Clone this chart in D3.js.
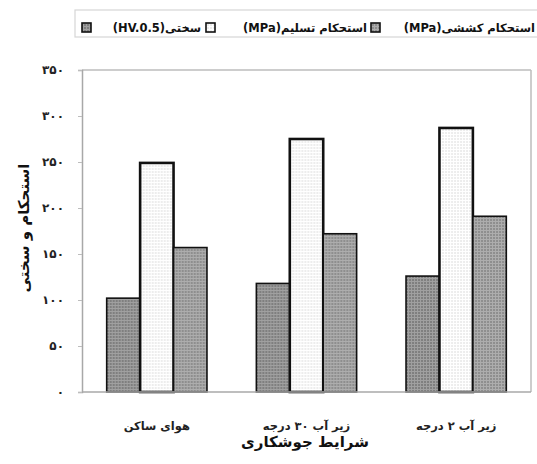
<!DOCTYPE html>
<html>
<head>
<meta charset="utf-8">
<script src="https://cdn.jsdelivr.net/npm/d3@7"></script>
<style>
  body { margin: 0; background: #fff; }
  text { font-family: "DejaVu Sans", "Liberation Sans", sans-serif; }
</style>
</head>
<body>
<div id="chart-area"></div>
<script>
const width = 537;
const height = 464;

// data
const conditions = ["هوای ساکن", "زیر آب ۳۰ درجه", "زیر آب ۲ درجه"];
const seriesNames = ["سختی(HV.0.5)", "استحکام تسلیم(MPa)", "استحکام کششی(MPa)"];
const hardness = [102, 118, 126];
const yieldStrength = [249, 275, 287];
const tensileStrength = [157, 172, 191];
const yTicks = [0, 50, 100, 150, 200, 250, 300, 350];

const seriesValues = [hardness, yieldStrength, tensileStrength];
const rows = conditions.map((c, i) => ({
    cond: c,
    vals: seriesValues.map((s, k) => ({ key: k, value: s[i] }))
}));

const fa = d => String(d).replace(/\d/g, c => "۰۱۲۳۴۵۶۷۸۹"[c]);

const svg = d3.select("#chart-area")
    .append("svg")
    .attr("width", width)
    .attr("height", height);

// patterns for the bar fills
const defs = svg.append("defs");
function dotPattern(id, bg, dot, r) {
    const p = defs.append("pattern").attr("id", id)
        .attr("width", 3).attr("height", 3)
        .attr("patternUnits", "userSpaceOnUse");
    p.append("rect").attr("width", 3).attr("height", 3).attr("fill", bg);
    p.append("circle").attr("cx", 1).attr("cy", 1).attr("r", r).attr("fill", dot);
    return "url(#" + id + ")";
}
const fills = [
    dotPattern("p0", "#a0a0a0", "#555", 0.8),
    dotPattern("p1", "#ffffff", "#cfcfcf", 0.7),
    dotPattern("p2", "#adadad", "#666", 0.8)
];
const strokeW = [1.6, 2.6, 1.6];

const x0 = d3.scaleBand()
    .domain(conditions)
    .range([82, 531])
    .paddingInner(0.33)
    .paddingOuter(0.165);

const x1 = d3.scaleBand()
    .domain([0, 1, 2])
    .range([0, x0.bandwidth()]);

const y = d3.scaleLinear()
    .domain([0, 350])
    .range([392, 70]);

// frame
svg.append("line").attr("x1", 82).attr("x2", 531).attr("y1", y(350)).attr("y2", y(350))
    .attr("stroke", "#bdbdbd").attr("stroke-width", 1.5);
svg.append("line").attr("x1", 531).attr("x2", 531).attr("y1", y(350)).attr("y2", y(0))
    .attr("stroke", "#bdbdbd").attr("stroke-width", 1.5);

// y axis
const yAxis = svg.append("g")
    .attr("transform", "translate(82,0)")
    .call(d3.axisLeft(y).tickValues(yTicks).tickSize(4).tickPadding(14).tickFormat(fa));
yAxis.select(".domain").attr("stroke", "#a8a8a8").attr("stroke-width", 1.5);
yAxis.selectAll(".tick line").attr("stroke", "#bdbdbd");
yAxis.selectAll(".tick text")
    .attr("fill", "#222")
    .style("font-size", "12px")
    .style("font-weight", "bold");

// bars
const groups = svg.selectAll("g.grp")
    .data(rows)
    .enter().append("g")
    .attr("class", "grp")
    .attr("transform", d => `translate(${x0(d.cond)},0)`);

groups.selectAll("rect")
    .data(d => d.vals)
    .enter().append("rect")
    .attr("x", d => x1(d.key))
    .attr("y", d => y(d.value))
    .attr("width", x1.bandwidth())
    .attr("height", d => y(0) - y(d.value))
    .attr("fill", d => fills[d.key])
    .attr("stroke", "#111")
    .attr("stroke-width", d => strokeW[d.key]);

// x axis line
svg.append("line").attr("x1", 82).attr("x2", 531).attr("y1", y(0)).attr("y2", y(0))
    .attr("stroke", "#a8a8a8").attr("stroke-width", 1.5);

// category labels
svg.selectAll("text.cat")
    .data(conditions)
    .enter().append("text")
    .attr("class", "cat")
    .attr("x", d => x0(d) + x0.bandwidth() / 2)
    .attr("y", 430)
    .attr("text-anchor", "middle")
    .attr("direction", "rtl")
    .style("font-size", "11.5px")
    .style("font-weight", "bold")
    .attr("fill", "#222")
    .text(d => d);

// axis titles
svg.append("text")
    .attr("x", 305).attr("y", 447)
    .attr("text-anchor", "middle")
    .attr("direction", "rtl")
    .style("font-size", "15px").style("font-weight", "bold")
    .attr("fill", "#111")
    .text("شرایط جوشکاری");

svg.append("text")
    .attr("transform", "translate(29,228) rotate(-90)")
    .attr("text-anchor", "middle")
    .attr("direction", "rtl")
    .style("font-size", "15px").style("font-weight", "bold")
    .attr("fill", "#111")
    .text("استحکام و سختی");

// legend
svg.append("rect")
    .attr("x", 75).attr("y", 10)
    .attr("width", 480).attr("height", 27)
    .attr("fill", "none")
    .attr("stroke", "#d6d6d6").attr("stroke-width", 1.2);

const legendSwatchX = [82, 206, 371];
const legendTextRight = [201, 367, 535];
seriesNames.forEach((name, i) => {
    svg.append("rect")
        .attr("x", legendSwatchX[i]).attr("y", 23)
        .attr("width", 9).attr("height", 9)
        .attr("fill", fills[i])
        .attr("stroke", "#111").attr("stroke-width", 1.6);
    svg.append("text")
        .attr("x", legendTextRight[i]).attr("y", 32)
        .attr("direction", "rtl")
        .attr("text-anchor", "start")
        .style("font-size", "11.5px")
        .style("font-weight", "bold")
        .attr("fill", "#111")
        .text(name);
});
</script>
</body>
</html>
